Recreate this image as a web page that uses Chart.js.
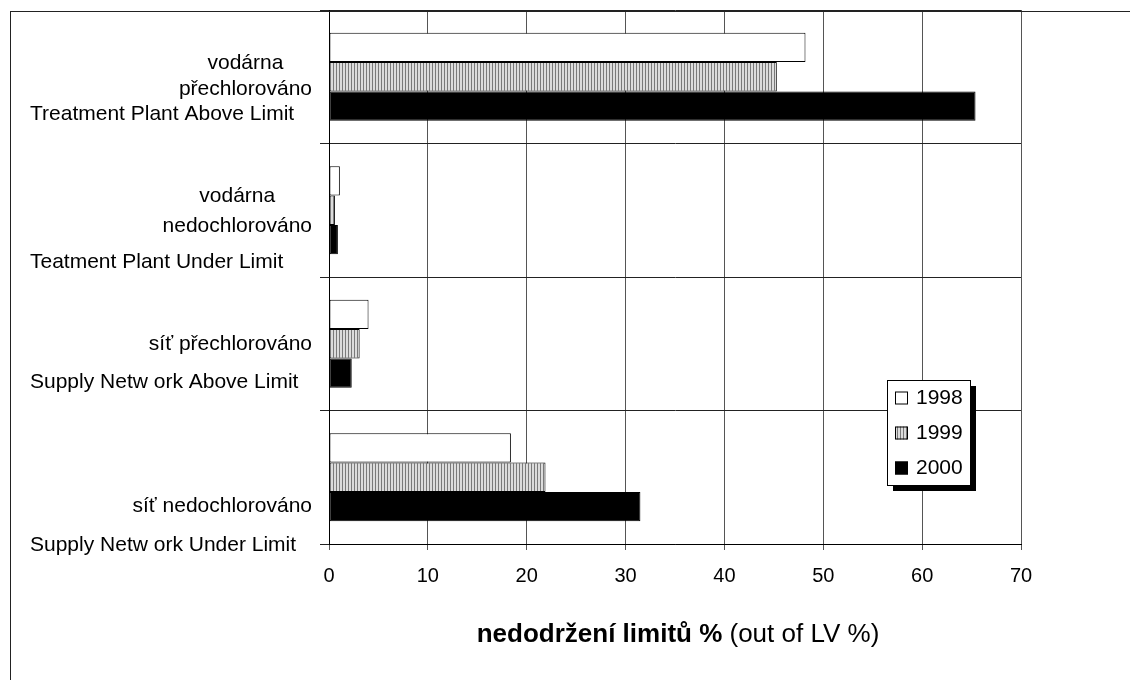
<!DOCTYPE html>
<html>
<head>
<meta charset="utf-8">
<script src="https://cdn.jsdelivr.net/npm/chart.js@4.4.1/dist/chart.umd.min.js"></script>
<style>
  body { margin: 0; background: #fff; }
  canvas { display: block; }
</style>
</head>
<body>
<canvas id="chart" width="1130" height="680"></canvas>
<script>
var years = ['1998', '1999', '2000'];

var categoriesCz = [
  ['vodárna', 'přechlorováno'],
  ['vodárna', 'nedochlorováno'],
  ['síť přechlorováno'],
  ['síť nedochlorováno']
];
var categoriesEn = [
  'Treatment Plant Above Limit',
  'Teatment Plant Under Limit',
  'Supply Netw ork Above Limit',
  'Supply Netw ork Under Limit'
];

var values1998 = [48.2, 1.1, 4.0, 18.4];
var values1999 = [45.3, 0.6, 3.1, 21.9];
var values2000 = [65.4, 0.9, 2.3, 31.5];

var axisTitleBold = 'nedodržení limitů %';
var axisTitleNormal = ' (out of LV %)';

var FONT = '"Liberation Sans", Arial, sans-serif';

var canvas = document.getElementById('chart');
var ctx = canvas.getContext('2d');

function stripePattern() {
  var c = document.createElement('canvas');
  c.width = 3;
  c.height = 3;
  var g = c.getContext('2d');
  g.fillStyle = '#dcdcdc';
  g.fillRect(0, 0, 3, 3);
  g.fillStyle = '#7a7a7a';
  g.fillRect(0, 0, 1, 3);
  return ctx.createPattern(c, 'repeat');
}

var stripes = stripePattern();
var fills = ['#ffffff', stripes, '#000000'];

// vertical offsets of the label lines from the middle of each band
var czOffsets = [[-14, 12], [-14, 16], [0], [29]];
var enOffsets = [37, 52, 38, 68];

var decorations = {
  id: 'decorations',

  beforeDraw: function(chart) {
    var c = chart.ctx;
    c.save();
    c.fillStyle = '#fff';
    c.fillRect(0, 0, chart.width, chart.height);
    c.restore();
  },

  afterDraw: function(chart) {
    var c = chart.ctx;
    var area = chart.chartArea;
    var yScale = chart.scales.y;
    var xScale = chart.scales.x;

    c.save();

    // outer frame, cut off on the right and bottom
    c.strokeStyle = '#222';
    c.lineWidth = 1;
    c.strokeRect(10.5, 11.5, chart.width + 20, chart.height + 20);

    // category labels
    c.fillStyle = '#000';
    c.textBaseline = 'middle';
    c.font = '21px ' + FONT;
    categoriesCz.forEach(function(lines, i) {
      var mid = yScale.getPixelForValue(i);
      var maxW = 0;
      lines.forEach(function(t) { maxW = Math.max(maxW, c.measureText(t).width); });
      var cx = area.left - 17 - maxW / 2;
      c.textAlign = 'center';
      lines.forEach(function(t, j) {
        c.fillText(t, cx, mid + czOffsets[i][j]);
      });
      c.textAlign = 'left';
      c.fillText(categoriesEn[i], 30, mid + enOffsets[i]);
    });

    // axis title, bold part + normal part centred under the plot
    var boldFont = 'bold 26px ' + FONT;
    var normFont = '26px ' + FONT;
    c.font = boldFont;
    var wb = c.measureText(axisTitleBold).width;
    c.font = normFont;
    var wn = c.measureText(axisTitleNormal).width;
    var tx = (xScale.left + xScale.right) / 2 + 3 - (wb + wn) / 2;
    var ty = 635;
    c.textAlign = 'left';
    c.font = boldFont;
    c.fillText(axisTitleBold, tx, ty);
    c.font = normFont;
    c.fillText(axisTitleNormal, tx + wb, ty);

    // legend box with drop shadow
    var lx = 887, ly = 380, lw = 83, lh = 105;
    c.fillStyle = '#000';
    c.fillRect(lx + 6, ly + 6, lw, lh);
    c.fillStyle = '#fff';
    c.fillRect(lx, ly, lw, lh);
    c.strokeStyle = '#000';
    c.strokeRect(lx + 0.5, ly + 0.5, lw, lh);

    c.font = '21px ' + FONT;
    c.textAlign = 'left';
    years.forEach(function(year, i) {
      var ry = ly + 17.5 + 35 * i;
      c.fillStyle = fills[i];
      c.fillRect(lx + 8, ry - 6, 13, 13);
      c.strokeStyle = '#000';
      c.strokeRect(lx + 8.5, ry - 5.5, 12, 12);
      c.fillStyle = '#000';
      c.fillText(year, lx + 29, ry + 1);
    });

    c.restore();
  }
};

var chart = new Chart(ctx, {
  type: 'bar',
  data: {
    labels: categoriesEn,
    datasets: [
      { label: years[0], data: values1998, backgroundColor: fills[0] },
      { label: years[1], data: values1999, backgroundColor: fills[1] },
      { label: years[2], data: values2000, backgroundColor: fills[2] }
    ]
  },
  options: {
    indexAxis: 'y',
    responsive: false,
    animation: false,
    layout: {
      padding: { left: 320, top: 10, right: 109, bottom: 78 }
    },
    datasets: {
      bar: {
        categoryPercentage: 0.66,
        barPercentage: 1.0,
        borderColor: '#000',
        borderWidth: 1,
        borderSkipped: false
      }
    },
    plugins: {
      legend: { display: false },
      tooltip: { enabled: false }
    },
    scales: {
      x: {
        min: 0,
        max: 70,
        ticks: {
          stepSize: 10,
          color: '#000',
          padding: 14,
          font: { family: FONT, size: 20 }
        },
        grid: { color: '#555', tickLength: 6 },
        border: { color: '#000' }
      },
      y: {
        ticks: { display: false },
        grid: { offset: true, color: '#222', tickLength: 9 },
        border: { color: '#000' }
      }
    }
  },
  plugins: [decorations]
});
</script>
</body>
</html>
